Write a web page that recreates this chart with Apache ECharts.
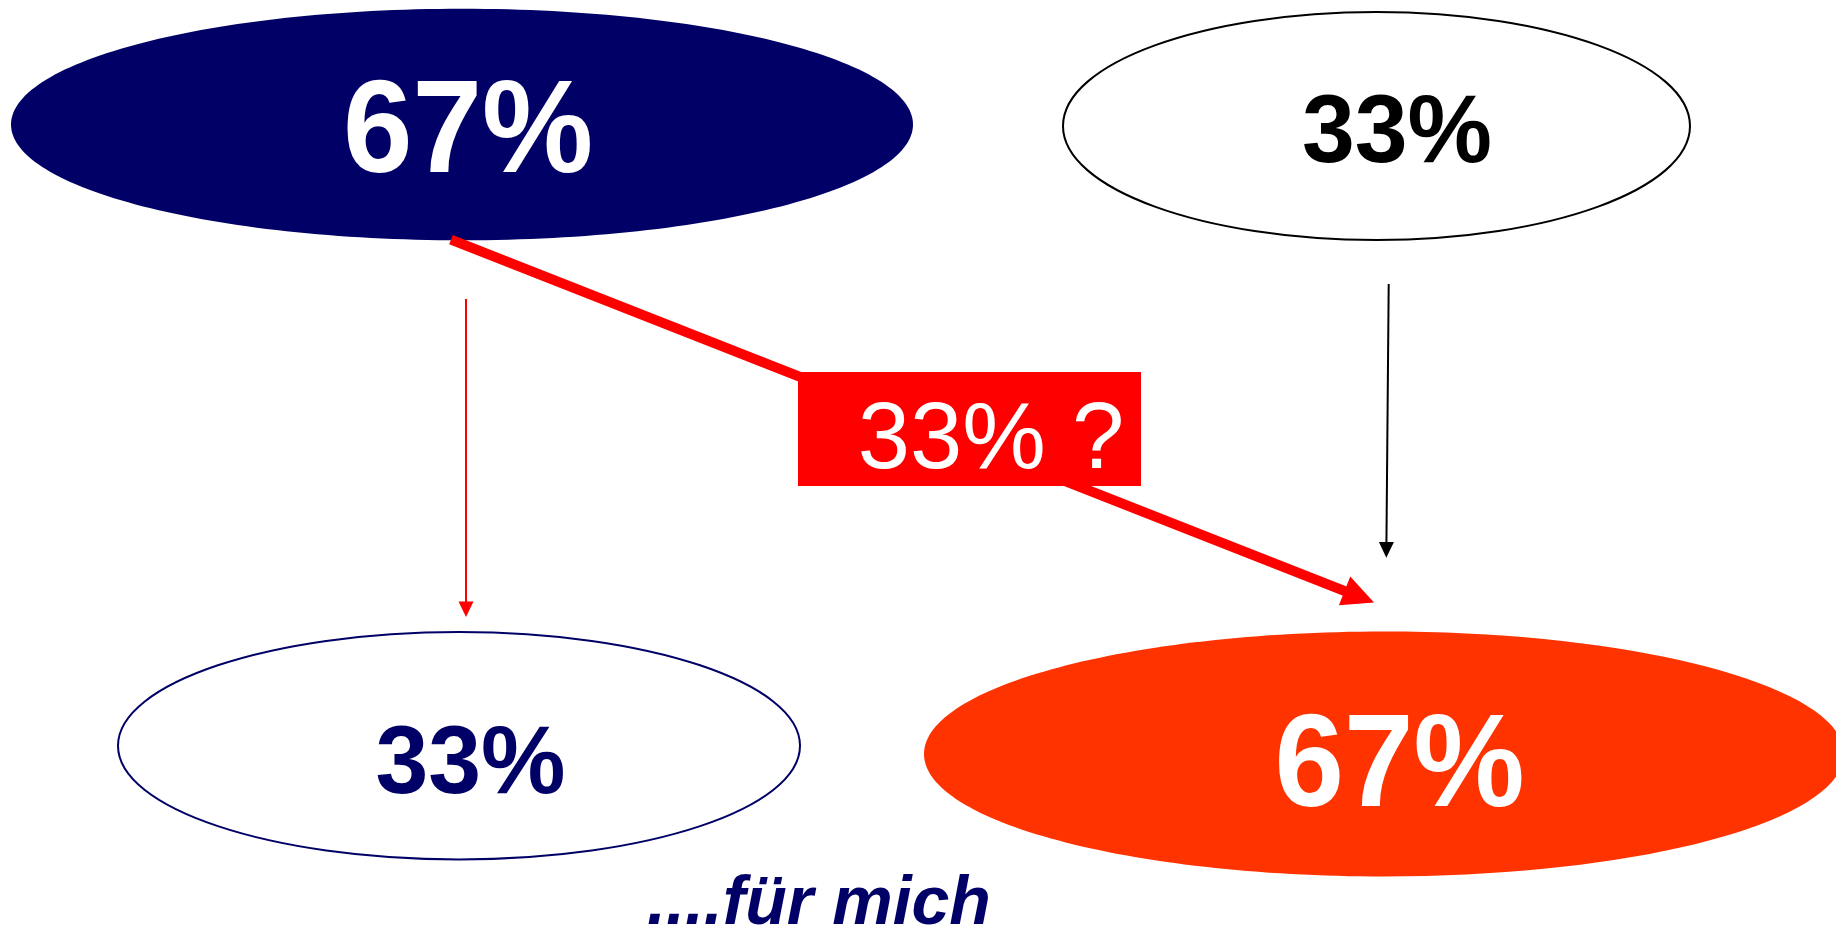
<!DOCTYPE html>
<html>
<head>
<meta charset="utf-8">
<script src="https://cdn.jsdelivr.net/npm/echarts@6/dist/echarts.min.js"></script>
<style>
  html, body { margin: 0; padding: 0; background: #ffffff; }
  #chart { width: 1841px; height: 929px; }
</style>
</head>
<body>
<div id="chart"></div>
<script>
// ---- data ----
const nodeLabels = ['67%', '33%', '33%', '67%'];
const nodeShares = [67, 33, 33, 67];
const flowLabels = ['33% ?'];
const captionText = ['....für mich'];

// ---- layout (diagram units = canvas units of the hidden axes) ----
const nodeLayout = [
  { cx: 462,    cy: 124.5, rx: 451,   ry: 115.8, lx: 468,    ly: 135.5 },
  { cx: 1376.5, cy: 126,   rx: 313.5, ry: 114,   lx: 1397,   ly: 135.5 },
  { cx: 459,    cy: 745.7, rx: 341,   ry: 113.7, lx: 470.5,  ly: 766.5 },
  { cx: 1384,   cy: 754,   rx: 460,   ry: 122.5, lx: 1399.5, ly: 770 }
];
const arrowLayout = [
  { from: [466, 299],      to: [466, 617],       width: 2,  headLen: 15.5, headW: 15, color: '#FF0000' },
  { from: [1388.7, 284],   to: [1386.3, 557.7],  width: 2,  headLen: 15.7, headW: 15, color: '#000000' },
  { from: [451, 239.7],    to: [1374, 602.5],    width: 10, headLen: 31.6, headW: 31, color: '#FF0000' }
];
const boxLayout = [{ x0: 798, y0: 372, x1: 1141, y1: 486, lx: 991, ly: 442 }];
const captionLayout = [{ x: 819, y: 905 }];

// ---- styles ----
const FONT = '"Liberation Sans", Arial, Helvetica, sans-serif';
const nodeStyles = [
  { fill: '#000066', stroke: null,      lw: 0, text: '#ffffff', size: 125, sy: 1.05 },
  { fill: '#ffffff', stroke: '#000000', lw: 2, text: '#000000', size: 95,  sy: 1.02 },
  { fill: '#ffffff', stroke: '#000066', lw: 2, text: '#000066', size: 95,  sy: 1.02 },
  { fill: '#FF3300', stroke: null,      lw: 0, text: '#ffffff', size: 125, sy: 1.05 }
];

const chart = echarts.init(document.getElementById('chart'), null, { renderer: 'canvas' });

const option = {
  animation: false,
  backgroundColor: '#ffffff',
  grid: { left: 0, top: 0, width: 1836, height: 929, outerBoundsMode: 'none', containLabel: false },
  xAxis: { type: 'value', min: 0, max: 1836, show: false },
  yAxis: { type: 'value', min: 0, max: 929, inverse: true, show: false },
  series: [
    {
      type: 'custom',
      name: 'nodes',
      clip: true,
      encode: { x: 0, y: 1 },
      data: nodeShares.map((v, i) => [nodeLayout[i].cx, nodeLayout[i].cy, v]),
      renderItem: function (params, api) {
        const i = params.dataIndex;
        const L = nodeLayout[i], S = nodeStyles[i];
        const c = api.coord([L.cx, L.cy]);
        const r = api.size([L.rx, L.ry]);
        const lp = api.coord([L.lx, L.ly]);
        return {
          type: 'group',
          children: [
            {
              type: 'ellipse',
              shape: { cx: c[0], cy: c[1], rx: Math.abs(r[0]), ry: Math.abs(r[1]) },
              style: { fill: S.fill, stroke: S.stroke, lineWidth: S.lw }
            },
            {
              type: 'text',
              x: lp[0], y: lp[1],
              scaleY: S.sy,
              style: {
                text: nodeLabels[i], fill: S.text,
                font: 'bold ' + S.size + 'px ' + FONT,
                align: 'center', verticalAlign: 'middle'
              }
            }
          ]
        };
      }
    },
    {
      type: 'custom',
      name: 'arrows',
      encode: { x: 0, y: 1 },
      data: arrowLayout.map(a => [a.from[0], a.from[1]]),
      renderItem: function (params, api) {
        const A = arrowLayout[params.dataIndex];
        const p0 = api.coord(A.from), p1 = api.coord(A.to);
        const dx = p1[0] - p0[0], dy = p1[1] - p0[1];
        const len = Math.sqrt(dx * dx + dy * dy);
        const ux = dx / len, uy = dy / len;
        const px = -uy, py = ux;
        const bx = p1[0] - ux * A.headLen, by = p1[1] - uy * A.headLen;
        return {
          type: 'group',
          children: [
            {
              type: 'line',
              shape: { x1: p0[0], y1: p0[1], x2: bx + ux, y2: by + uy },
              style: { stroke: A.color, lineWidth: A.width, lineCap: 'butt' }
            },
            {
              type: 'polygon',
              shape: { points: [
                [p1[0], p1[1]],
                [bx + px * A.headW / 2, by + py * A.headW / 2],
                [bx - px * A.headW / 2, by - py * A.headW / 2]
              ] },
              style: { fill: A.color }
            }
          ]
        };
      }
    },
    {
      type: 'custom',
      name: 'flow',
      encode: { x: 0, y: 1 },
      data: flowLabels.map((t, i) => [boxLayout[i].x0, boxLayout[i].y0]),
      renderItem: function (params, api) {
        const B = boxLayout[params.dataIndex];
        const a = api.coord([B.x0, B.y0]), b = api.coord([B.x1, B.y1]);
        const lp = api.coord([B.lx, B.ly]);
        return {
          type: 'group',
          children: [
            {
              type: 'rect',
              shape: { x: Math.min(a[0], b[0]), y: Math.min(a[1], b[1]), width: Math.abs(b[0] - a[0]), height: Math.abs(b[1] - a[1]) },
              style: { fill: '#FF0000' }
            },
            {
              type: 'text',
              x: lp[0], y: lp[1],
              style: {
                text: flowLabels[params.dataIndex], fill: '#ffffff',
                font: 'normal 94px ' + FONT,
                align: 'center', verticalAlign: 'middle'
              }
            }
          ]
        };
      }
    },
    {
      type: 'custom',
      name: 'caption',
      encode: { x: 0, y: 1 },
      data: captionText.map((t, i) => [captionLayout[i].x, captionLayout[i].y]),
      renderItem: function (params, api) {
        const C = captionLayout[params.dataIndex];
        const p = api.coord([C.x, C.y]);
        return {
          type: 'text',
          x: p[0], y: p[1],
          style: {
            text: captionText[params.dataIndex], fill: '#000066',
            font: 'italic bold 68px ' + FONT,
            align: 'center', verticalAlign: 'middle'
          }
        };
      }
    }
  ]
};

chart.setOption(option);
</script>
</body>
</html>
